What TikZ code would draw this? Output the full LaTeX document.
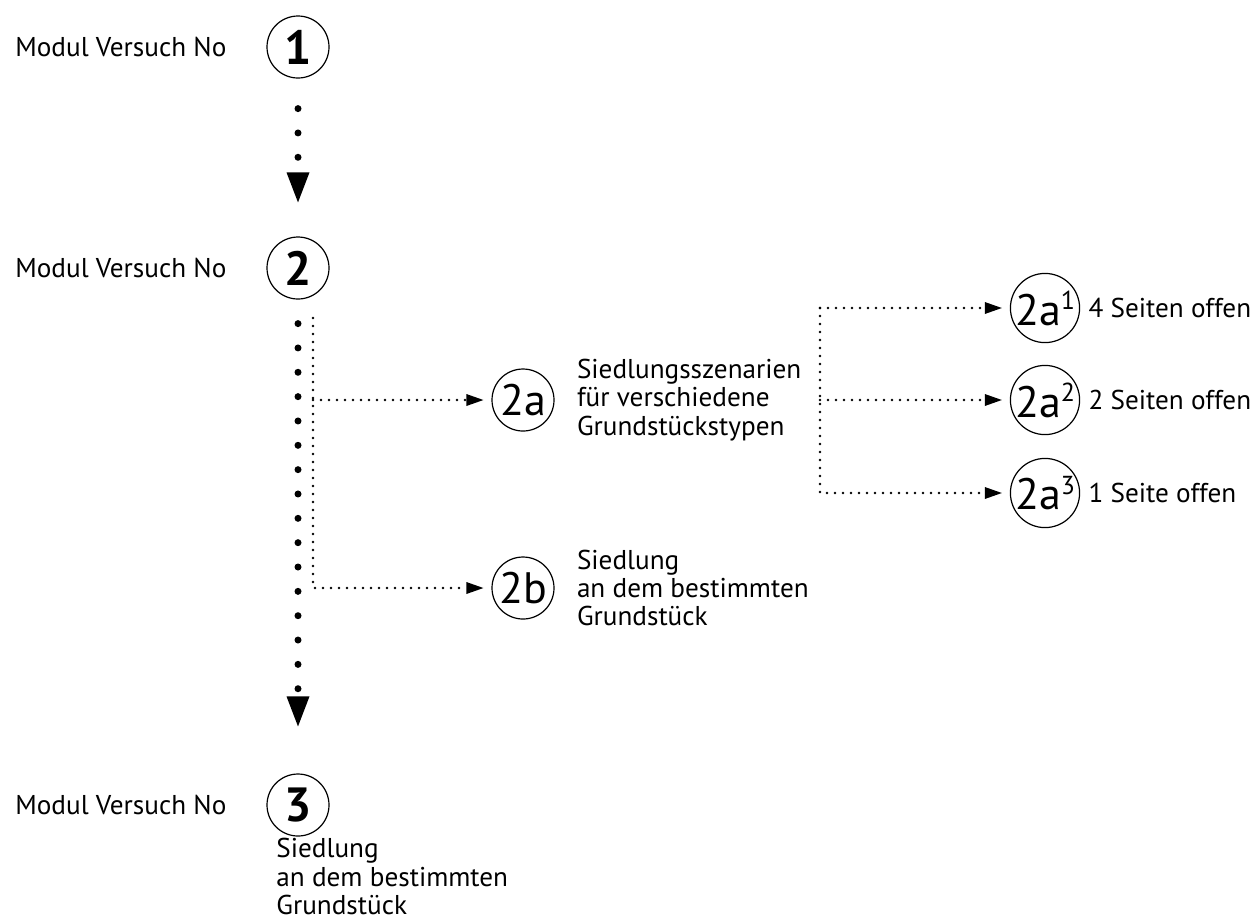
\documentclass[tikz,border=0pt]{standalone}
\usepackage{fontspec}
\setmainfont{PT Sans}
\usetikzlibrary{arrows.meta,positioning}

\newcommand{\hoch}[1]{\raisebox{0.36em}{\fontsize{13}{13}\selectfont #1}}

\tikzset{
  nr/.style={draw,circle,line width=0.6pt,minimum size=31pt,inner sep=0pt,font=\fontsize{22}{22}\selectfont},
  txt/.style={align=left,inner sep=0pt,font=\fontsize{13.6}{14.2}\selectfont},
  bigdots/.style={line width=3.5pt,line cap=round,dash pattern=on 0pt off 12.17pt,
    -{Triangle[length=15pt,width=11.5pt,line width=0pt]}},
  smalldots/.style={line width=1.4pt,line cap=round,dash pattern=on 0pt off 4pt,
    -{Triangle[length=8.5pt,width=6pt,line width=0pt]},shorten >=4pt}
}

\begin{document}
\begin{tikzpicture}[x=0.5pt,y=-0.5pt]
  \useasboundingbox (0,0) rectangle (1258,923);

  % main column
  \node[nr] (m1) at (298,47) {\fontsize{24}{24}\selectfont\textbf{1}};
  \node[nr] (m2) at (298,268) {\fontsize{24}{24}\selectfont\textbf{2}};
  \node[nr] (m3) at (298,805) {\fontsize{24}{24}\selectfont\textbf{3}};
  \node[txt,anchor=west] (l1) at (15,47) {Modul Versuch No};
  \node[txt,anchor=west] (l2) at (15,268) {Modul Versuch No};
  \node[txt,anchor=west] (l3) at (15,805) {Modul Versuch No};
  \node[txt,anchor=north west] (t3) at (276,838) {Siedlung\\an dem bestimmten\\Grundstück};

  \draw[bigdots,shorten <=15pt,shorten >=17pt] (m1) -- (m2);
  \draw[bigdots,shorten <=12pt,shorten >=23.5pt] (m2) -- (m3);

  % variants of 2
  \node[nr] (m2a) at (523,400) {2a};
  \node[nr] (m2b) at (523,588) {2b};
  \node[txt,right=11pt of m2a] (t2a) {Siedlungsszenarien\\für verschiedene\\Grundstückstypen};
  \node[txt,right=11pt of m2b] (t2b) {Siedlung\\an dem bestimmten\\Grundstück};

  \coordinate (split) at (313,318);
  \draw[smalldots] (split) |- (m2b);
  \draw[smalldots] (split |- m2a) -- (m2a);

  % variants of 2a
  \node[nr,minimum size=32pt] (m2a1) at (1045,308) {2a\hoch{1}};
  \node[nr,minimum size=32pt] (m2a2) at (1045,400) {2a\hoch{2}};
  \node[nr,minimum size=32pt] (m2a3) at (1045,493) {2a\hoch{3}};
  \node[txt,right=4pt of m2a1] (t2a1) {4 Seiten offen};
  \node[txt,right=4pt of m2a2] (t2a2) {2 Seiten offen};
  \node[txt,right=4pt of m2a3] (t2a3) {1 Seite offen};

  \coordinate (fork) at (820,400);
  \draw[smalldots] (fork |- m2a1) -- (m2a1);
  \draw[smalldots] (fork) -- (m2a2);
  \draw[smalldots] (fork |- m2a1) |- (m2a3);
\end{tikzpicture}
\end{document}
